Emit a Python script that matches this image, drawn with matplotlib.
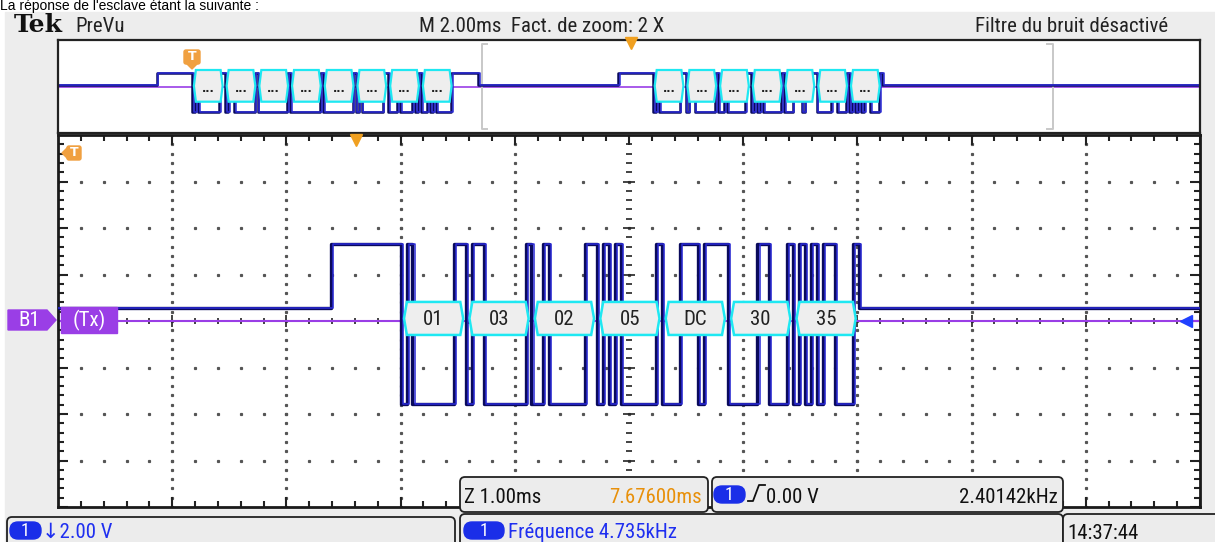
import matplotlib
matplotlib.use('Agg')
import matplotlib.pyplot as plt
from matplotlib.patches import Rectangle, Polygon, FancyBboxPatch
from matplotlib import font_manager
import numpy as np

# bytes on the bus (Modbus RTU, 19200 baud, 8E1)
request_bytes = [0x01, 0x03, 0x00, 0x00, 0x00, 0x01, 0x84, 0x0A]
response_bytes = [0x01, 0x03, 0x02, 0x05, 0xDC, 0x30, 0x35]
bit_ms = 1000 / 19200

# timing of the 20 ms record (ms)
req_enable = 1.73
req_start = 2.35
req_release = 7.36
resp_enable = 9.81
resp_start = 10.42
record_span = 20.0
zoom_start = 7.42
zoom_span = 10.0
expand_point = 10.03

# trace levels: main in divisions (2 V/div), overview in screen units
main_levels = {'idle': 0.27, 1: 1.66, 0: -1.78}
ov_levels = {'idle': 1.7, 1: 14.0, 0: -25.0}

W, H = 1215, 542
NAVY = '#0a0a5c'
BLUE = '#2a2ad6'
CYAN = '#1ee8f2'
PURPLE = '#9a3ee6'
ORANGE = '#f0a040'
TXTBLUE = '#1f2ff0'


def pick(*names):
    have = {f.name for f in font_manager.fontManager.ttflist}
    for n in names:
        if n in have:
            return n
    return 'DejaVu Sans'


scope = pick('Liberation Sans Narrow', 'DejaVu Sans Condensed', 'Roboto Condensed', 'Liberation Sans')
scope_fam = [scope, 'DejaVu Sans']


def frame_bits(b):
    data = [(b >> i) & 1 for i in range(8)]
    return [0] + data + [sum(data) % 2] + [1]


def build_steps():
    t, s = [0.0], ['idle']
    for enable, start, data, release in ((req_enable, req_start, request_bytes, req_release),
                                         (resp_enable, resp_start, response_bytes, None)):
        t.append(enable); s.append(1)
        for k, b in enumerate(data):
            for j, bit in enumerate(frame_bits(b)):
                t.append(start + (11 * k + j) * bit_ms); s.append(bit)
        end = start + 11 * len(data) * bit_ms
        if release:
            t.append(end); s.append(1)
            t.append(release); s.append('idle')
        else:
            t.append(end); s.append('idle')
    t.append(record_span); s.append('idle')
    return np.array(t), s


def px_axes(x0, y0, x1, y1, **kw):
    return fig.add_axes([x0 / W, 1 - y1 / H, (x1 - x0) / W, (y1 - y0) / H], **kw)


def hexbox(a, x0, x1, y0, y1, dx, **kw):
    ym = (y0 + y1) / 2
    pts = [(x0 + dx, y1), (x1 - dx, y1), (x1, ym), (x1 - dx, y0), (x0 + dx, y0), (x0, ym)]
    a.add_patch(Polygon(pts, closed=True, **kw))


fig = plt.figure(figsize=(W / 100, H / 100), dpi=100)
fig.patch.set_facecolor('white')

bg = px_axes(0, 0, W, H, zorder=0)
bg.set_xlim(0, W); bg.set_ylim(H, 0); bg.axis('off')
bg.add_patch(Rectangle((5, 12), W - 5, H - 12, color='#ededed'))

t, s = build_steps()
frame_ms = 11 * bit_ms

# ---- overview ----
ov = px_axes(58, 40, 1200, 133, zorder=1)
ov.set_xlim(0, record_span); ov.set_ylim(-46.3, 46.7)
ov.set_xticks([]); ov.set_yticks([])
for sp in ov.spines.values():
    sp.set_color('#222'); sp.set_linewidth(1.6)
ov.axhline(0, color=PURPLE, lw=1.2, zorder=1)
y_ov = [ov_levels[v] for v in s]
ov.plot(t, y_ov, drawstyle='steps-post', color=NAVY, lw=1.8, zorder=2)
ov.plot(t + 0.03, y_ov, drawstyle='steps-post', color=BLUE, lw=1.1, zorder=2)
for start, data in ((req_start, request_bytes), (resp_start, response_bytes)):
    for k in range(len(data)):
        x0 = start + k * frame_ms + 0.03
        x1 = start + (k + 1) * frame_ms - 0.04
        hexbox(ov, x0, x1, -15, 16.7, 0.035, facecolor='#eeeeee', edgecolor=CYAN, lw=1.6, zorder=3)
        ov.text((x0 + x1) / 2, -2, '...', ha='center', va='center', fontsize=8,
                fontweight='bold', color='#222', zorder=4)
# zoom window bracket
for xb, d in ((zoom_start, 0.1), (zoom_start + zoom_span, -0.1)):
    ov.plot([xb + d, xb, xb, xb + d], [42.7, 42.7, -42.3, -42.3], color='#c8c8c8', lw=1.4, zorder=1)
ov.plot([expand_point], [43.5], marker='v', ms=9, color='#f0a020', clip_on=False, zorder=5)

# ---- main graticule ----
ax = px_axes(58, 135, 1200, 507, zorder=1)
x_lo, x_hi = zoom_start, zoom_start + zoom_span
ax.set_xlim(x_lo, x_hi); ax.set_ylim(-4, 4)
ax.set_xticks([]); ax.set_yticks([])
for sp in ax.spines.values():
    sp.set_color('#1a1a1a'); sp.set_linewidth(2)

xs = x_lo + np.arange(0, 50.5) * 0.2
ys = -4 + np.arange(0, 40.5) * 0.2
for gy in (-3, -2, -1, 1, 2, 3):
    ax.plot(xs, np.full_like(xs, gy), ls='none', marker='s', ms=1.3, color='#555', zorder=1)
for gx in range(1, 10):
    if gx == 5:
        continue
    ax.plot(np.full_like(ys, x_lo + gx), ys, ls='none', marker='s', ms=1.3, color='#555', zorder=1)

# centre crosshair and border ticks
major_x = np.isclose((xs - x_lo) % 1, 0) | np.isclose((xs - x_lo) % 1, 1)
major_y = np.isclose((ys + 4) % 1, 0) | np.isclose((ys + 4) % 1, 1)
ax.plot(np.full(major_y.sum(), x_lo + 5), ys[major_y], ls='none', marker='_', ms=9, mew=1.2, color='#222', zorder=1)
ax.plot(np.full((~major_y).sum(), x_lo + 5), ys[~major_y], ls='none', marker='_', ms=5, mew=1.2, color='#222', zorder=1)
ax.plot(xs[major_x], np.zeros(major_x.sum()), ls='none', marker='|', ms=9, mew=1.2, color='#222', zorder=1)
ax.plot(xs[~major_x], np.zeros((~major_x).sum()), ls='none', marker='|', ms=5, mew=1.2, color='#222', zorder=1)
for edge in (x_lo, x_hi):
    ax.plot(np.full(major_y.sum(), edge), ys[major_y], ls='none', marker='_', ms=15, mew=1.5, color='#222')
    ax.plot(np.full((~major_y).sum(), edge), ys[~major_y], ls='none', marker='_', ms=8, mew=1.5, color='#222')
for edge in (-4, 4):
    ax.plot(xs[major_x], np.full(major_x.sum(), edge), ls='none', marker='|', ms=15, mew=1.5, color='#222')
    ax.plot(xs[~major_x], np.full((~major_x).sum(), edge), ls='none', marker='|', ms=8, mew=1.5, color='#222')

ax.axhline(0, color=PURPLE, lw=1.5, zorder=2)
y_main = [main_levels[v] for v in s]
ax.plot(t, y_main, drawstyle='steps-post', color=NAVY, lw=2.4, zorder=3)
ax.plot(t + 0.018, y_main, drawstyle='steps-post', color=BLUE, lw=1.1, zorder=3)

for k, b in enumerate(response_bytes):
    x0 = resp_start + k * frame_ms + 0.03
    x1 = resp_start + (k + 1) * frame_ms - 0.025
    hexbox(ax, x0, x1, -0.30, 0.41, 0.025, facecolor='#eeeeee', edgecolor=CYAN, lw=1.8, zorder=4)
    ax.text((x0 + x1) / 2, 0.04, f'{b:02X}', ha='center', va='center', fontsize=15,
            family=scope_fam, color='#222', zorder=5)

ax.plot([expand_point], [3.9], marker='v', ms=9, color='#f0a020', clip_on=False, zorder=5)
ax.plot([x_hi - 0.12], [0], marker='<', ms=9, color='#2040ff', zorder=5)

# ---- screen text and readouts ----
fg = px_axes(0, 0, W, H, zorder=5)
fg.set_xlim(0, W); fg.set_ylim(H, 0); fg.axis('off'); fg.patch.set_alpha(0)

fg.text(0, 10, "La réponse de l'esclave étant la suivante :", fontsize=10,
        family='Liberation Sans', va='baseline', color='black')
fg.text(14, 32, 'Tek', fontsize=18, family='DejaVu Serif', fontweight='bold', va='baseline', color='#111')
fg.text(75, 32, 'PreVu', fontsize=15, family=scope_fam, va='baseline', color='#222')
fg.text(542, 32, 'M 2.00ms  Fact. de zoom: 2 X', fontsize=15, family=scope_fam, va='baseline',
        ha='center', color='#222')
fg.text(1168, 32, 'Filtre du bruit désactivé', fontsize=15, family=scope_fam, va='baseline',
        ha='right', color='#222')

# trigger flags
fg.add_patch(FancyBboxPatch((184, 50), 16, 14, boxstyle='round,pad=0,rounding_size=2', color=ORANGE))
fg.add_patch(Polygon([(186, 63), (198, 63), (192, 69)], color=ORANGE))
fg.text(192, 57, 'T', fontsize=9, fontweight='bold', color='white', ha='center', va='center')
fg.add_patch(FancyBboxPatch((67, 146), 14, 14, boxstyle='round,pad=0,rounding_size=2', color=ORANGE))
fg.add_patch(Polygon([(68, 147), (68, 159), (62, 153)], color=ORANGE))
fg.text(74, 153, 'T', fontsize=9, fontweight='bold', color='white', ha='center', va='center')

# bus label
fg.add_patch(Polygon([(8, 310), (47, 310), (56, 320), (47, 330), (8, 330)], color=PURPLE))
fg.text(29, 320.5, 'B1', fontsize=15, family=scope_fam, color='white', ha='center', va='center')
fg.add_patch(Rectangle((61, 307), 56, 26, color=PURPLE))
fg.text(89, 320, '(Tx)', fontsize=15, family=scope_fam, color='white', ha='center', va='center')


def panel(x0, y0, x1, y1):
    fg.add_patch(FancyBboxPatch((x0, y0), x1 - x0, y1 - y0, boxstyle='round,pad=0,rounding_size=5',
                                facecolor='#ececec', edgecolor='#222', lw=1.3))


def pill(x, y, width=31, label='1'):
    fg.add_patch(FancyBboxPatch((x, y - 8), width, 17, boxstyle='round,pad=0,rounding_size=8',
                                color='#1a2ee8'))
    fg.text(x + width / 2, y + 0.5, label, fontsize=13, family=scope_fam, color='white',
            ha='center', va='center')


panel(460, 477, 708, 512)
panel(712, 477, 1063, 512)
fg.text(464, 503, 'Z 1.00ms', fontsize=15, family=scope_fam, va='baseline', color='#111')
fg.text(702, 503, '7.67600ms', fontsize=15, family=scope_fam, va='baseline', ha='right', color='#e8900a')
pill(714, 494)
fg.plot([748, 753, 759, 765], [501, 501, 485, 485], color='#111', lw=1.3)
fg.text(766, 503, '0.00 V', fontsize=15, family=scope_fam, va='baseline', color='#111')
fg.text(1058, 503, '2.40142kHz', fontsize=15, family=scope_fam, va='baseline', ha='right', color='#111')

panel(7, 517, 455, 560)
panel(460, 514, 1063, 560)
panel(1063, 514, 1230, 560)
pill(10, 530)
fg.text(42, 538, '↓2.00 V', fontsize=15, family=scope_fam, va='baseline', color=TXTBLUE)
pill(464, 530, width=40)
fg.text(508, 538, 'Fréquence 4.735kHz', fontsize=15, family=scope_fam, va='baseline', color=TXTBLUE)
fg.text(1067, 539, '14:37:44', fontsize=15, family=scope_fam, va='baseline', color='#111')

fig.savefig('out.png', dpi=100)
